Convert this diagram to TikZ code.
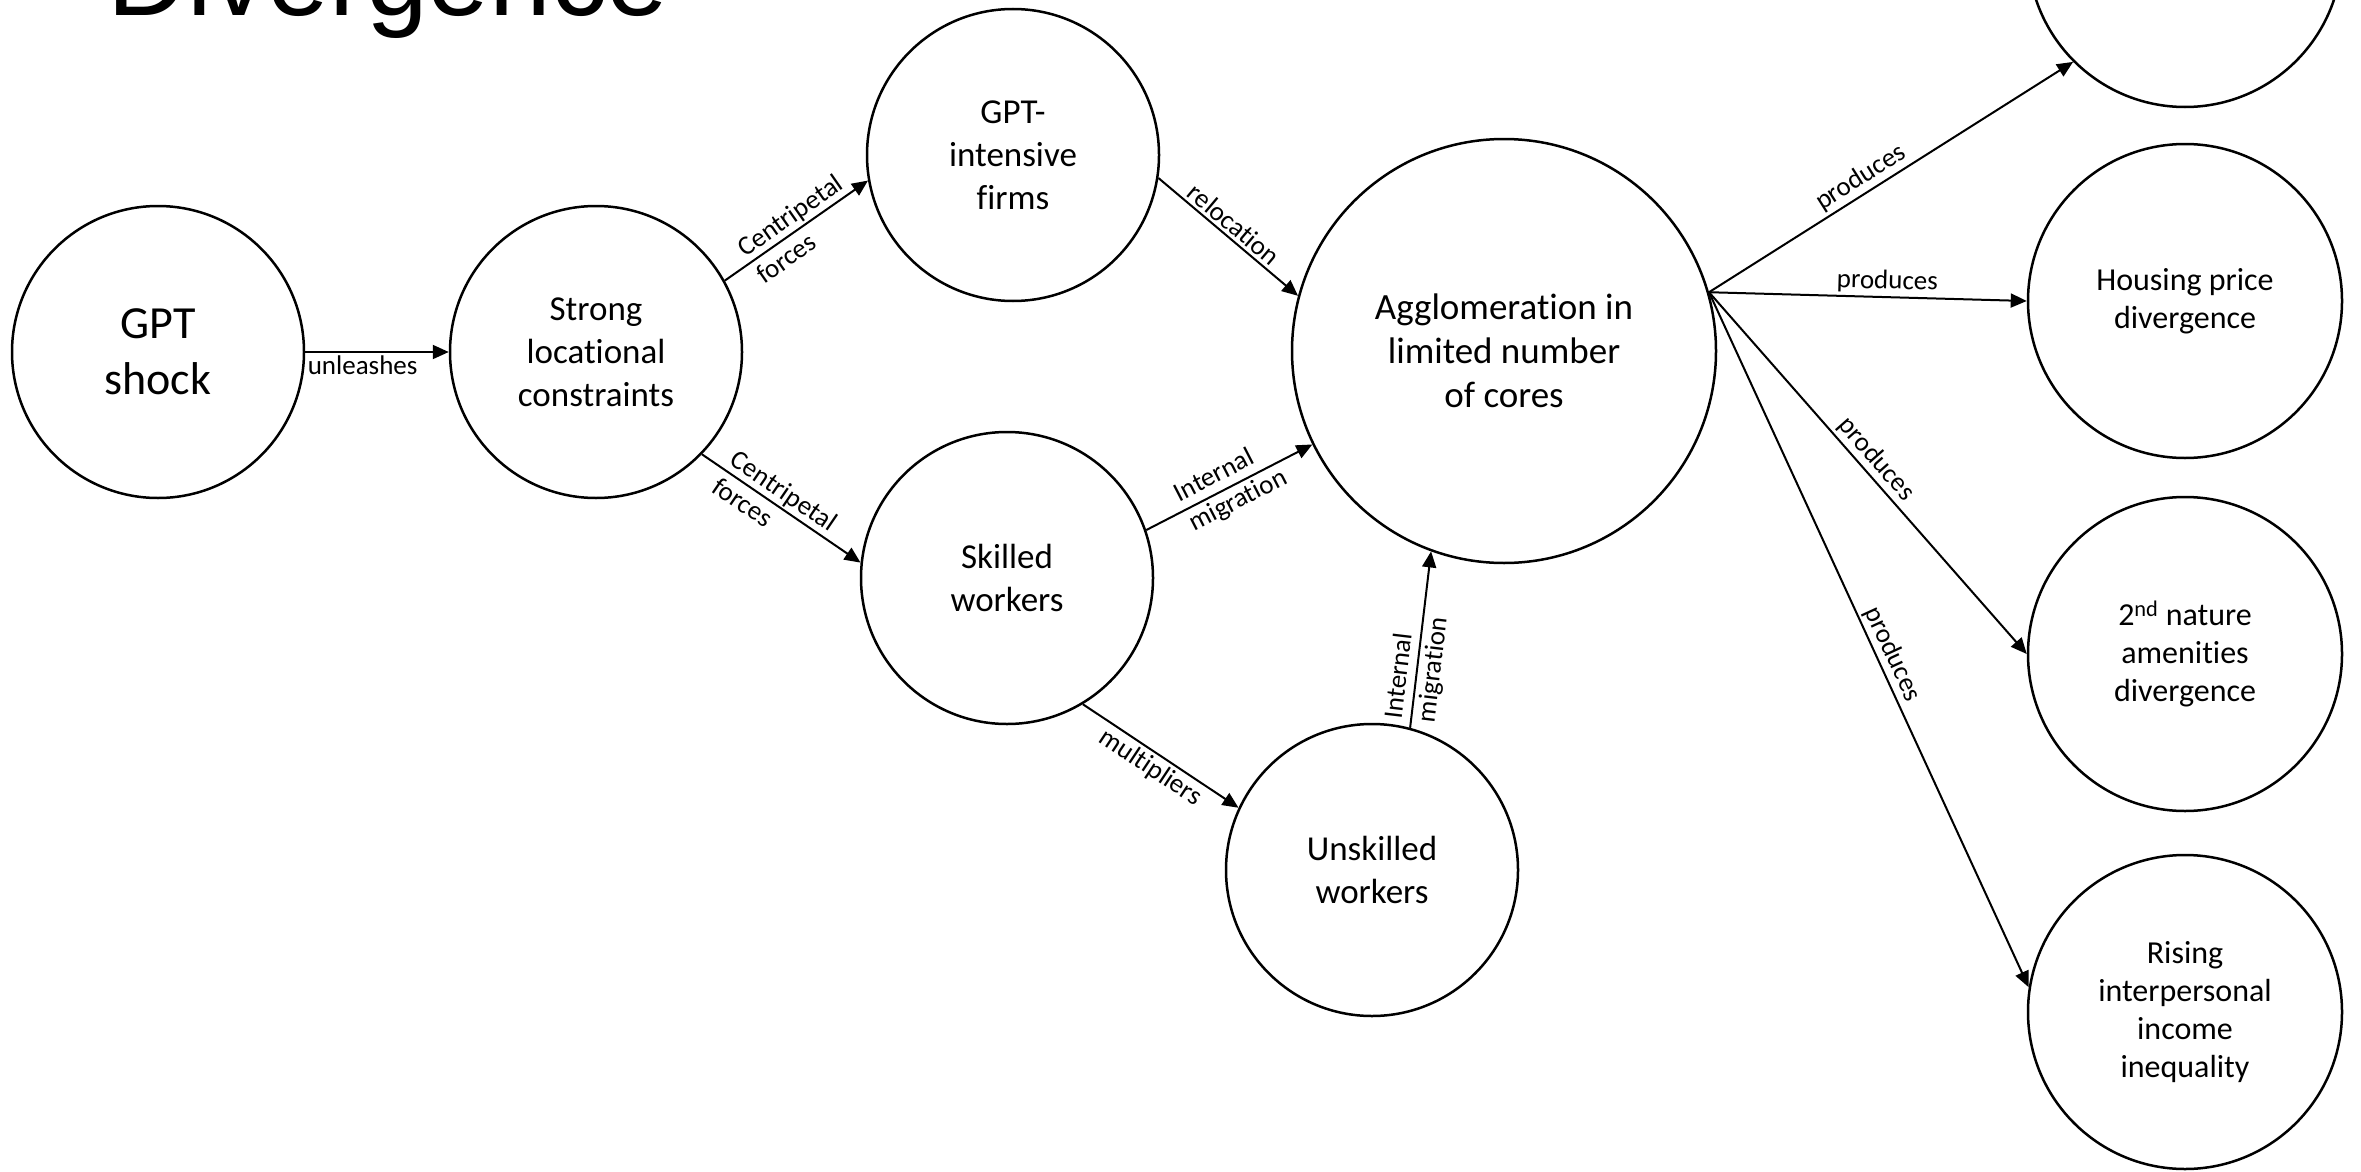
\documentclass[tikz,border=0pt]{standalone}
\usepackage{fontspec}
\setmainfont{Carlito}[Ligatures={NoCommon}]
\newfontfamily\titlefont{Liberation Sans}
\usetikzlibrary{arrows.meta}
\begin{document}
\begin{tikzpicture}[x=1pt,y=-1pt,
  bubble/.style={draw, circle, line width=2.5pt, inner sep=0pt, align=center},
  small/.style={bubble, minimum size=292pt, font=\fontsize{35}{43}\selectfont},
  big/.style={bubble, minimum size=424pt, font=\fontsize{37}{44}\selectfont},
  right/.style={bubble, minimum size=314pt, font=\fontsize{32}{38}\selectfont},
  conn/.style={line width=2pt, -{Triangle[length=16pt,width=14pt]}},
  lab/.style={font=\fontsize{27}{33}\selectfont, inner sep=3pt, sloped},
  twolab/.style={lab, align=left, inner sep=0pt}
]
\useasboundingbox (0,0) rectangle (2361,1172);
\clip (0,0) rectangle (2361,1172);
\fill[white] (0,0) rectangle (2361,1172);

\node[anchor=base west, inner sep=0pt, font=\titlefont\fontsize{111}{120}\selectfont] (title) at (107,16) {Divergence};

\node[small, font=\fontsize{46}{56}\selectfont] (A) at (158,352) {GPT\\shock};
\node[small] (B) at (596,352) {Strong\\locational\\constraints};
\node[small] (C) at (1013,155) {GPT-\\intensive\\firms};
\node[small] (D) at (1007,578) {Skilled\\workers};
\node[big] (E) at (1504,351) {Agglomeration in\\limited number\\of cores};
\node[small] (F) at (1372,870) {Unskilled\\workers};
\node[right] (G) at (2185,-50) {};
\node[right] (H) at (2185,301) {Housing price\\divergence};
\node[right] (I) at (2185,654) {2\textsuperscript{nd} nature\\amenities\\divergence};
\node[right] (J) at (2185,1012) {Rising\\interpersonal\\income\\inequality};

\draw[conn] (A.0) -- node[lab, below, pos=0.4] {unleashes} (B.180);
\draw[conn] (B.29.6) -- node[twolab, pos=0.52] {Centripetal\\forces} (C.190);
\draw[conn] (B.316) -- node[twolab, pos=0.46] {Centripetal\\forces} (D.174.5);
\draw[conn] (C.351) -- node[lab, above, pos=0.48] {relocation} (E.165.8);
\draw[conn] (D.19.7) -- node[twolab, pos=0.51] {Internal\\migration} (E.206.9);
\draw[conn] (D.301.5) -- node[lab, below, pos=0.49] {multipliers} (F.155.7);
\draw[conn] (F.75) -- node[twolab, pos=0.34] {Internal\\migration} (E.250.7);
\draw[conn] (E.16.75) -- node[lab, above, pos=0.44] {produces} (G.225);
\draw[conn] (E.16.75) -- node[lab, above, pos=0.56] {produces} (H.180);
\draw[conn] (E.16.75) -- node[lab, above, pos=0.49] {produces} (I.180);
\draw[conn] (E.16.75) -- node[lab, above, pos=0.53] {produces} (J.171.7);
\end{tikzpicture}
\end{document}
